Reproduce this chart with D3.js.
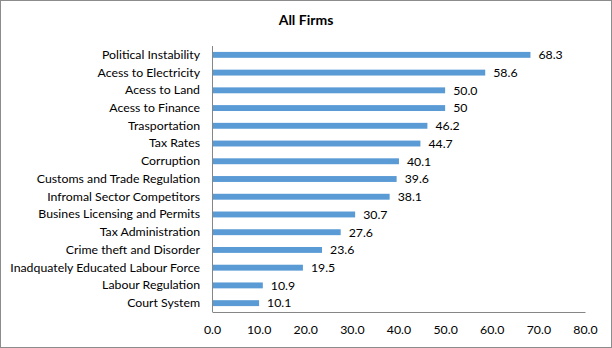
<!DOCTYPE html>
<html><head><meta charset="utf-8">
<script src="https://cdn.jsdelivr.net/npm/d3@7"></script>
<style>body{margin:0;background:#fff}svg{display:block}</style>
</head><body><svg id="c" width="612" height="348"></svg>
<script>
const categories = ["Political Instability","Acess to Electricity ","Acess to Land ","Acess to Finance","Trasportation","Tax Rates","Corruption","Customs and Trade Regulation","Infromal Sector Competitors","Busines Licensing and Permits","Tax Administration","Crime theft and Disorder","Inadquately Educated Labour Force","Labour Regulation","Court System"];
const values = [68.3,58.6,50.0,50,46.2,44.7,40.1,39.6,38.1,30.7,27.6,23.6,19.5,10.9,10.1];
const valueLabels = ["68.3","58.6","50.0","50","46.2","44.7","40.1","39.6","38.1","30.7","27.6","23.6","19.5","10.9","10.1"];
const xTicks = [0,10,20,30,40,50,60,70,80];
const title = "All Firms";

const svg = d3.select("#c");
const font = "Lato, 'Open Sans', sans-serif";
svg.append("rect").attr("x",0.5).attr("y",0.5).attr("width",611).attr("height",347)
  .attr("fill","#fff").attr("stroke","#8c8c8c");
svg.append("text").attr("x",306).attr("y",25).attr("text-anchor","middle")
  .attr("font-family",font).attr("font-weight","bold").attr("font-size",14).attr("fill","#000").text(title);

const x = d3.scaleLinear().domain([0,80]).range([212,585]);
const y = d3.scaleBand().domain(categories).range([46,312]).paddingInner(0.667).paddingOuter(0.333);

svg.append("g").selectAll("rect").data(values).join("rect")
  .attr("x",x(0)).attr("y",(d,i)=>y(categories[i]))
  .attr("width",d=>x(d)-x(0)).attr("height",y.bandwidth()).attr("fill","#5b9bd5");

svg.append("g").selectAll("text").data(values).join("text")
  .attr("x",d=>x(d)+8).attr("y",(d,i)=>y(categories[i])+y.bandwidth()/2).attr("dy","0.35em")
  .attr("font-family",font).attr("font-size",12.3).attr("fill","#000").text((d,i)=>valueLabels[i]);

const yAxis = svg.append("g").attr("transform",`translate(${x(0)},0)`)
  .call(d3.axisLeft(y).tickSize(0).tickPadding(12));
yAxis.select(".domain").attr("stroke","#868686").attr("d","M0.5,46V312");
yAxis.selectAll("text").attr("font-family",font).attr("font-size",12.3).attr("fill","#000");

const xAxis = svg.append("g").attr("transform","translate(0,312)")
  .call(d3.axisBottom(x).tickValues(xTicks).tickSize(0).tickPadding(13).tickFormat(d3.format(".1f")));
xAxis.select(".domain").attr("stroke","#868686");
xAxis.selectAll("text").attr("font-family",font).attr("font-size",12.3).attr("fill","#000");
</script></body></html>
